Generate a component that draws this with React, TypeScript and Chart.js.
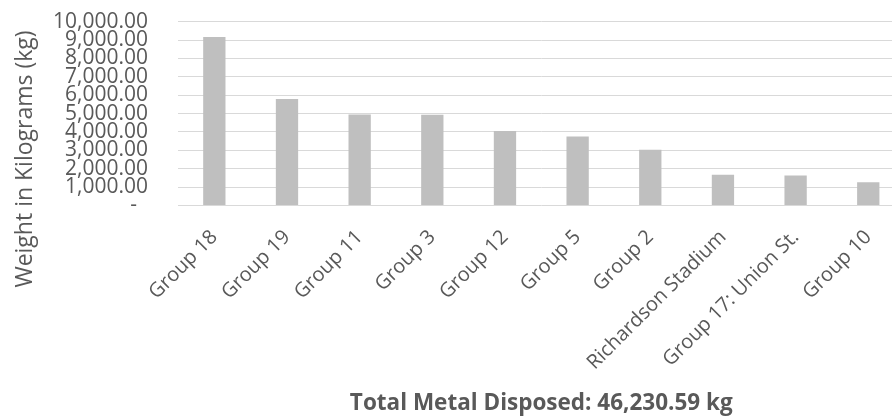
import { useEffect, useRef } from "react";
import { Chart, registerables } from "chart.js";

Chart.register(...registerables);

// Categories and measured weights (kg)
const groups = [
  "Group 18",
  "Group 19",
  "Group 11",
  "Group 3",
  "Group 12",
  "Group 5",
  "Group 2",
  "Richardson Stadium",
  "Group 17: Union St.",
  "Group 10",
];
const weightsKg = [9170, 5800, 4950, 4940, 4060, 3750, 3030, 1670, 1630, 1270];

// Value axis range
const axisMin = 0;
const axisMax = 10000;
const axisStep = 1000;

const yAxisTitle = "Weight in Kilograms (kg)";
const totalTitle = "Total Metal Disposed: 46,230.59 kg";

const FONT = "'Open Sans', 'Noto Sans', sans-serif";
const TEXT = "#595959";

const fmt = (v: number) =>
  v === 0
    ? "-  "
    : v.toLocaleString("en-US", { minimumFractionDigits: 2, maximumFractionDigits: 2 });

// Vertical axis title, centred on the whole chart block rather than the plot area
const yTitlePlugin = {
  id: "yTitle",
  afterDraw(chart: any) {
    const { ctx } = chart;
    ctx.save();
    ctx.translate(31.5, 159);
    ctx.rotate(-Math.PI / 2);
    ctx.font = `23px ${FONT}`;
    ctx.fillStyle = TEXT;
    ctx.textAlign = "center";
    ctx.textBaseline = "alphabetic";
    ctx.fillText(yAxisTitle, 0, 0);
    ctx.restore();
  },
};

export default function App() {
  const ref = useRef<HTMLCanvasElement>(null);

  useEffect(() => {
    const chart = new Chart(ref.current!, {
      type: "bar",
      data: {
        labels: groups,
        datasets: [
          {
            data: weightsKg,
            backgroundColor: "#BFBFBF",
            barPercentage: 0.307,
            categoryPercentage: 1,
          },
        ],
      },
      options: {
        animation: false,
        responsive: false,
        devicePixelRatio: 1,
        layout: { padding: { top: 21.7, right: 7.4, bottom: 0, left: 0 } },
        plugins: { legend: { display: false }, tooltip: { enabled: false } },
        scales: {
          x: {
            grid: { display: false, drawTicks: false },
            border: { display: false },
            ticks: {
              autoSkip: false,
              maxRotation: 45,
              minRotation: 45,
              padding: 20,
              color: TEXT,
              font: { family: FONT, size: 20 },
            },
            title: {
              display: true,
              text: totalTitle,
              color: TEXT,
              padding: 0,
              font: { family: FONT, size: 22.5, weight: "bold" },
            },
            afterFit: (s: any) => {
              s.height = 211.5;
            },
          },
          y: {
            min: axisMin,
            max: axisMax,
            grid: { color: "#D9D9D9", lineWidth: 1, drawTicks: false },
            border: { display: false },
            ticks: {
              stepSize: axisStep,
              autoSkip: false,
              padding: 30,
              color: TEXT,
              font: { family: FONT, size: 21 },
              callback: (v: any) => fmt(Number(v)),
            },
            afterFit: (s: any) => {
              s.width = 178;
              s.paddingTop = 12;
              s.paddingBottom = 12;
            },
          },
        },
      },
      plugins: [yTitlePlugin],
    } as any);
    return () => chart.destroy();
  }, []);

  return (
    <div
      style={{
        position: "absolute",
        left: 0,
        top: 0,
        width: 892,
        height: 417,
        overflow: "hidden",
        background: "#ffffff",
      }}
    >
      <canvas ref={ref} width={912} height={417} style={{ display: "block" }} />
    </div>
  );
}
